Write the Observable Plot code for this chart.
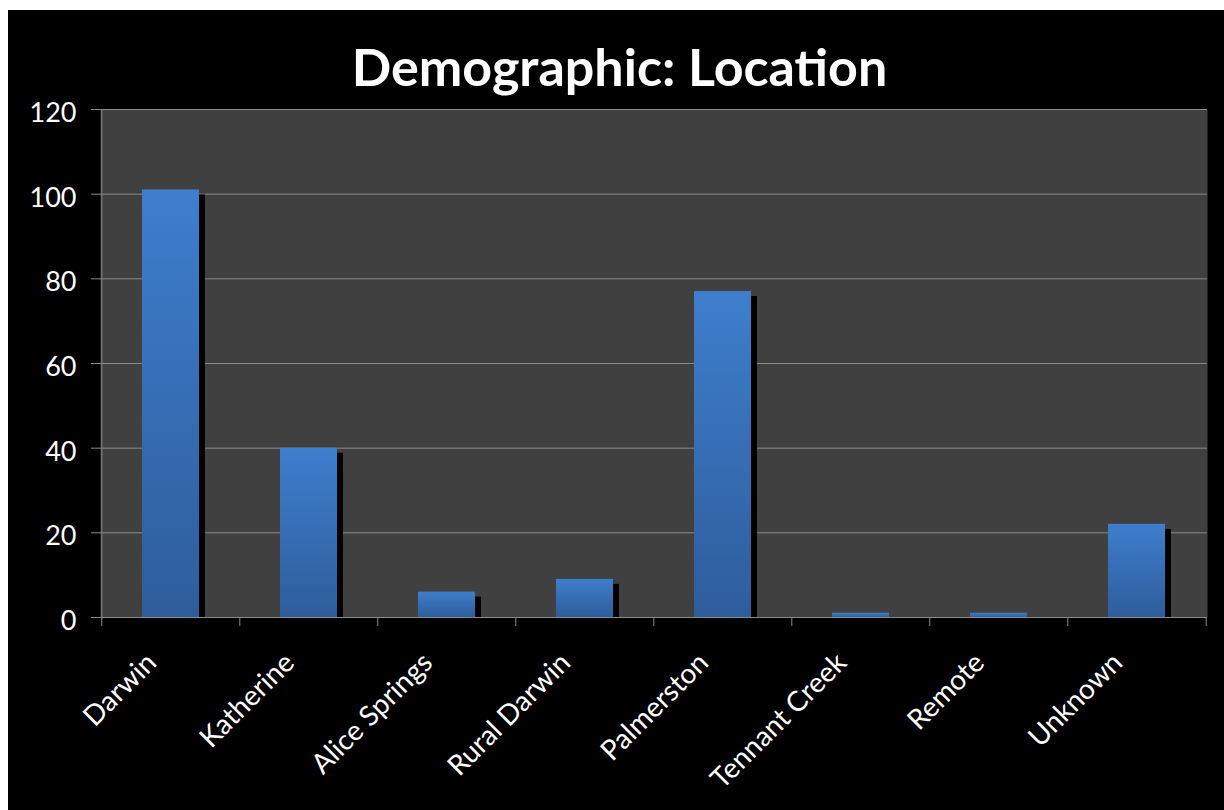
<!DOCTYPE html>
<html>
<head>
<meta charset="utf-8">
<script src="https://cdn.jsdelivr.net/npm/d3@7"></script>
<script src="https://cdn.jsdelivr.net/npm/@observablehq/plot@0.6"></script>
<style>
  html, body { margin: 0; padding: 0; background: #fff; }
  #wrap { position: absolute; left: 8px; top: 10px; width: 1216px; height: 800px; background: #000; overflow: hidden; }
  #title { position: absolute; left: 0; top: 30px; width: 1223px; text-align: center; color: #fff;
           font-family: Lato, "Open Sans", sans-serif; font-weight: 700; font-size: 52px; line-height: 1; }
  #chart { position: absolute; left: 0; top: 88px; }
</style>
</head>
<body>
<div id="wrap">
  <div id="title">Demographic: Location</div>
  <div id="chart"></div>
</div>
<script>
const categories = ["Darwin", "Katherine", "Alice Springs", "Rural Darwin", "Palmerston", "Tennant Creek", "Remote", "Unknown"];
const counts = [101, 40, 6, 9, 77, 1, 1, 22];
const yTicks = [0, 20, 40, 60, 80, 100, 120];

const data = categories.map((c, i) => ({location: c, count: counts[i]}));

const W = 1216, H = 712, ML = 92, MR = 17, MT = 11, MB = 193;
const step = (W - ML - MR) / categories.length;
const pxPerUnit = (H - MT - MB) / 120;
const gridColor = "#8a8a8a";

const chart = Plot.plot({
  width: W,
  height: H,
  marginLeft: ML,
  marginRight: MR,
  marginTop: MT,
  marginBottom: MB,
  style: {background: "#000", color: "#fff", fontFamily: "Lato, 'Open Sans', sans-serif", overflow: "visible"},
  x: {domain: categories, paddingInner: 0.59, paddingOuter: 0.295, axis: null},
  y: {domain: [0, 120], axis: null},
  marks: [
    Plot.frame({fill: "#404040", stroke: null}),
    Plot.ruleY(yTicks.filter(d => d > 0), {stroke: gridColor, strokeWidth: 1}),
    // shadows
    Plot.barY(data.filter(d => d.count * pxPerUnit > 6), {x: "location", y: "count", fill: "#000", dx: 6, insetTop: 5}),
    // bars
    Plot.barY(data, {x: "location", y: "count", fill: "url(#barGrad)"}),
    // axes lines
    Plot.ruleY([0], {stroke: gridColor}),
    Plot.ruleX([categories[0]], {dx: -step / 2, stroke: gridColor}),
    // category boundary ticks
    Plot.ruleX(categories, {x: d => d, dx: -step / 2, y1: 0, y2: -9 / pxPerUnit, stroke: gridColor}),
    Plot.ruleX([categories[categories.length - 1]], {dx: step / 2, y1: 0, y2: -9 / pxPerUnit, stroke: gridColor}),
    // y axis ticks and labels
    Plot.axisY(yTicks, {tickSize: 9, stroke: gridColor, fill: "none", label: null}),
    Plot.axisY(yTicks, {tickSize: 9, tickPadding: 15, stroke: "none", fill: "#fff", fontSize: 27, dy: 4, label: null}),
    // x labels
    Plot.text(data, {x: "location", text: "location", frameAnchor: "bottom", rotate: -45, textAnchor: "end",
                     dx: -13, dy: 47, fill: "#fff", fontSize: 28})
  ]
});

d3.select(chart).insert("defs", ":first-child").html(
  '<linearGradient id="barGrad" x1="0" y1="0" x2="0" y2="1">' +
  '<stop offset="0" stop-color="#3e7ecd"/>' +
  '<stop offset="1" stop-color="#2e5d9b"/>' +
  '</linearGradient>'
);

document.getElementById("chart").appendChild(chart);
</script>
</body>
</html>
